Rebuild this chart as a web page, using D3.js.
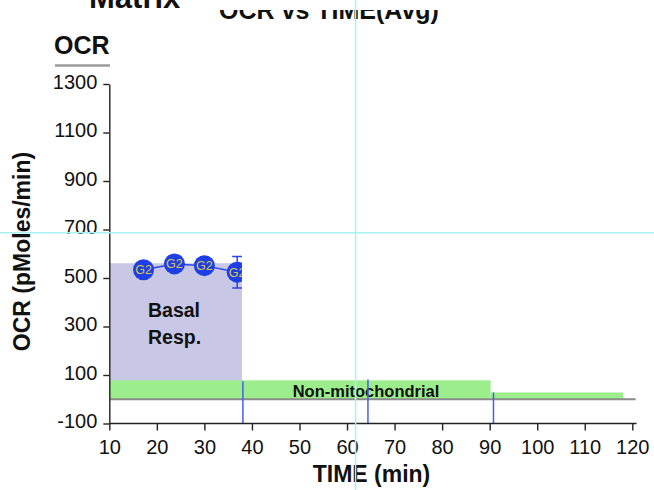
<!DOCTYPE html>
<html>
<head>
<meta charset="utf-8">
<script src="https://cdn.jsdelivr.net/npm/d3@7"></script>
<style>
  body { margin: 0; background: #fff; }
  text { font-family: "Liberation Sans", Arial, sans-serif; }
</style>
</head>
<body>
<div id="chart"></div>
<script>
// Data
// ================================
var timePoints = [17.2, 23.7, 30.0, 36.9];
var ocrMeans = [534, 558, 551, 524];
var ocrErrors = [12, 10, 10, 65];
var pointLabels = ["G2", "G2", "G2", "G2"];

var injectionTimes = [38.1, 64.4, 90.8];
var injectionTops = [74, 81, 28];

var basalStart = 10, basalEnd = 37.9, basalLevel = 561;
var nonMitoStarts = [10, 90.2];
var nonMitoEnds = [90.2, 118.1];
var nonMitoLevels = [78, 28];

var xTickValues = [10, 20, 30, 40, 50, 60, 70, 80, 90, 100, 110, 120];
var yTickValues = [-100, 100, 300, 500, 700, 900, 1100, 1300];

var cursorTime = 61.8, cursorOcr = 687;

// Set up the svg
// ================================
var svgWidth = 654;
var svgHeight = 490;

var svg = d3.select("#chart")
  .append("svg")
  .attr("width", svgWidth)
  .attr("height", svgHeight);

var xScale = d3.scaleLinear()
  .domain([10, 120])
  .range([109.3, 632.3]);

var yScale = d3.scaleLinear()
  .domain([-100, 1300])
  .range([423.5, 84]);

// Shaded regions
svg.append("rect")
  .attr("x", xScale(basalStart))
  .attr("y", yScale(basalLevel))
  .attr("width", xScale(basalEnd) - xScale(basalStart))
  .attr("height", yScale(0) - yScale(basalLevel))
  .attr("fill", "#c8c8e6");

svg.selectAll(".nonmito")
  .data(nonMitoLevels)
  .enter()
  .append("rect")
  .attr("class", "nonmito")
  .attr("x", (d, i) => xScale(nonMitoStarts[i]))
  .attr("y", d => yScale(d))
  .attr("width", (d, i) => xScale(nonMitoEnds[i]) - xScale(nonMitoStarts[i]))
  .attr("height", d => yScale(0) - yScale(d))
  .attr("fill", "#9cee8c");

// zero line
svg.append("line")
  .attr("x1", xScale(10))
  .attr("x2", xScale(120.7))
  .attr("y1", yScale(0))
  .attr("y2", yScale(0))
  .attr("stroke", "#8a8a8a")
  .attr("stroke-width", 2);

// Region labels
svg.append("text")
  .attr("x", 148)
  .attr("y", 317)
  .attr("font-size", "19.5px")
  .attr("font-weight", "bold")
  .attr("fill", "#111")
  .text("Basal");
svg.append("text")
  .attr("x", 148)
  .attr("y", 343.5)
  .attr("font-size", "19.5px")
  .attr("font-weight", "bold")
  .attr("fill", "#111")
  .text("Resp.");

svg.append("text")
  .attr("x", 366)
  .attr("y", 396.5)
  .attr("text-anchor", "middle")
  .attr("font-size", "16.5px")
  .attr("font-weight", "bold")
  .attr("fill", "#111")
  .text("Non-mitochondrial");

// Injection markers
svg.selectAll(".inj")
  .data(injectionTimes)
  .enter()
  .append("line")
  .attr("class", "inj")
  .attr("x1", d => xScale(d))
  .attr("x2", d => xScale(d))
  .attr("y1", (d, i) => yScale(injectionTops[i]))
  .attr("y2", yScale(-100))
  .attr("stroke", "#4a5cf0")
  .attr("stroke-width", 1.5);

// Axes
var bottomAxis = d3.axisBottom(xScale)
  .tickValues(xTickValues)
  .tickSize(7)
  .tickSizeOuter(0)
  .tickPadding(9);
var leftAxis = d3.axisLeft(yScale)
  .tickValues(yTickValues)
  .tickFormat(d => String(d))
  .tickSize(6)
  .tickSizeOuter(0)
  .tickPadding(6);

var xAxisG = svg.append("g")
  .attr("transform", `translate(0, ${yScale(-100)})`)
  .call(bottomAxis);
var yAxisG = svg.append("g")
  .attr("transform", `translate(${xScale(10)}, 0)`)
  .call(leftAxis);

[xAxisG, yAxisG].forEach(function(g) {
  g.select(".domain").attr("stroke", "#222").attr("stroke-width", 1.4);
  g.selectAll(".tick line").attr("stroke", "#222").attr("stroke-width", 1.4);
  g.selectAll(".tick text")
    .attr("fill", "#111")
    .attr("font-size", "20px")
    .attr("font-family", "Liberation Sans, Arial, sans-serif");
});
yAxisG.selectAll(".tick text").attr("dy", "0.2em");
// extend x axis a bit past last tick
xAxisG.select(".domain").attr("d", `M${xScale(10)},0H${xScale(120.9)}`);

// Data points, clipped at the end of the basal region
svg.append("clipPath")
  .attr("id", "dataClip")
  .append("rect")
  .attr("x", xScale(10))
  .attr("y", 0)
  .attr("width", xScale(basalEnd) - xScale(10))
  .attr("height", svgHeight);

var dataGroup = svg.append("g").attr("clip-path", "url(#dataClip)");

var line = d3.line()
  .x((d, i) => xScale(timePoints[i]))
  .y(d => yScale(d));

dataGroup.append("path")
  .datum(ocrMeans)
  .attr("d", line)
  .attr("fill", "none")
  .attr("stroke", "#2a44e8")
  .attr("stroke-width", 1.5);

dataGroup.selectAll(".err")
  .data(ocrMeans)
  .enter()
  .append("path")
  .attr("class", "err")
  .attr("d", function(d, i) {
    var x = xScale(timePoints[i]);
    var y1 = yScale(d + ocrErrors[i]);
    var y2 = yScale(d - ocrErrors[i]);
    return `M${x - 5},${y1}H${x + 5}M${x},${y1}V${y2}M${x - 5},${y2}H${x + 5}`;
  })
  .attr("fill", "none")
  .attr("stroke", "#2a44e8")
  .attr("stroke-width", 1.5);

dataGroup.selectAll("circle")
  .data(ocrMeans)
  .enter()
  .append("circle")
  .attr("cx", (d, i) => xScale(timePoints[i]))
  .attr("cy", d => yScale(d))
  .attr("r", 10.5)
  .attr("fill", "#1f3fe6");

dataGroup.selectAll(".g-label")
  .data(ocrMeans)
  .enter()
  .append("text")
  .attr("class", "g-label")
  .attr("x", (d, i) => xScale(timePoints[i]))
  .attr("y", d => yScale(d) + 4.5)
  .attr("text-anchor", "middle")
  .attr("font-size", "12.5px")
  .attr("fill", "#d8c84a")
  .text((d, i) => pointLabels[i]);

// Axis titles
svg.append("text")
  .attr("x", 371.5)
  .attr("y", 481.5)
  .attr("text-anchor", "middle")
  .attr("font-size", "23px")
  .attr("font-weight", "bold")
  .attr("fill", "#111")
  .text("TIME (min)");

svg.append("text")
  .attr("transform", "translate(29.5, 251.5) rotate(-90)")
  .attr("text-anchor", "middle")
  .attr("font-size", "23px")
  .attr("font-weight", "bold")
  .attr("fill", "#111")
  .text("OCR (pMoles/min)");

// Header texts
svg.append("text")
  .attr("x", 54)
  .attr("y", 54)
  .attr("font-size", "25px")
  .attr("font-weight", "bold")
  .attr("fill", "#111")
  .text("OCR");
svg.append("line")
  .attr("x1", 55)
  .attr("x2", 110)
  .attr("y1", 65.5)
  .attr("y2", 65.5)
  .attr("stroke", "#9a9a9a")
  .attr("stroke-width", 2.5);

svg.append("text")
  .attr("x", 89)
  .attr("y", 7.5)
  .attr("font-size", "31px")
  .attr("font-weight", "bold")
  .attr("fill", "#111")
  .text("Matrix");

svg.append("clipPath")
  .attr("id", "titleClip")
  .append("rect")
  .attr("x", 0)
  .attr("y", 10)
  .attr("width", svgWidth)
  .attr("height", 30);

svg.append("text")
  .attr("clip-path", "url(#titleClip)")
  .attr("x", 219)
  .attr("y", 18.5)
  .attr("font-size", "25px")
  .attr("font-weight", "bold")
  .attr("fill", "#111")
  .text("OCR vs TIME(Avg)");

// Cursor crosshair
svg.append("line")
  .attr("x1", xScale(cursorTime))
  .attr("x2", xScale(cursorTime))
  .attr("y1", 0)
  .attr("y2", svgHeight)
  .attr("stroke", "#a6f2f2")
  .attr("stroke-width", 1.5);
svg.append("line")
  .attr("x1", 0)
  .attr("x2", svgWidth)
  .attr("y1", yScale(cursorOcr))
  .attr("y2", yScale(cursorOcr))
  .attr("stroke", "#a6f2f2")
  .attr("stroke-width", 1.5);
</script>
</body>
</html>
